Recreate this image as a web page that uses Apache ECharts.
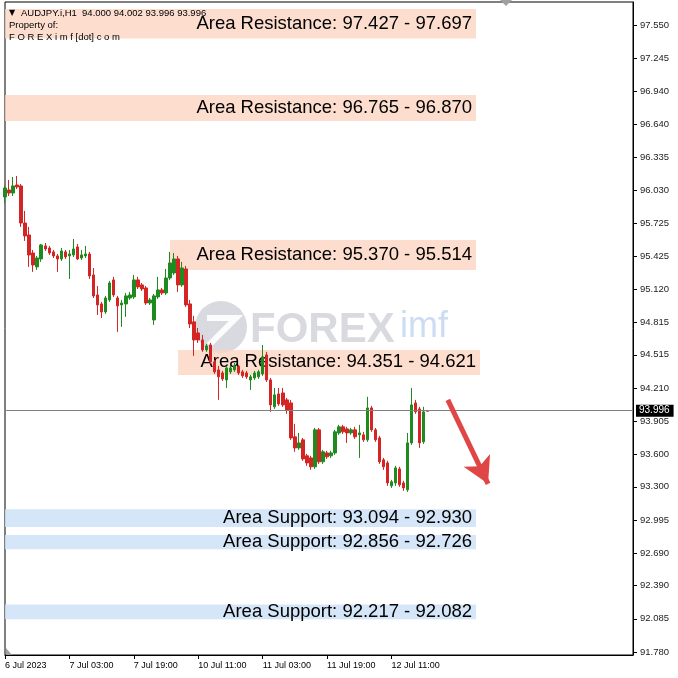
<!DOCTYPE html>
<html><head><meta charset="utf-8">
<script src="https://cdn.jsdelivr.net/npm/echarts@6/dist/echarts.min.js"></script>
<style>html,body{margin:0;padding:0;background:#fff;}#c{width:678px;height:678px;}</style>
</head><body><div id="c"></div>
<script>
// ---- data ----
const days = ['6 Jul', '7 Jul', '10 Jul', '11 Jul', '12 Jul', '13 Jul', '14 Jul'];
const firstHour = 11;
const slotCount = 158;
const tickIdx = [0, 16, 32, 48, 64, 80, 96];
const tickLabels = ['6 Jul 2023', '7 Jul 03:00', '7 Jul 19:00', '10 Jul 11:00', '11 Jul 03:00', '11 Jul 19:00', '12 Jul 11:00'];
const yTicks = [97.550, 97.245, 96.940, 96.640, 96.335, 96.030, 95.725, 95.425, 95.120, 94.815, 94.515, 94.210, 93.905, 93.600, 93.300, 92.995, 92.690, 92.390, 92.085, 91.780];
const yMin = 91.752, yMax = 97.762;
// [open, close, low, high]
const ohlc = [
[95.968,96.050,95.912,96.069],[96.032,96.004,95.977,96.124],[96.004,96.069,95.977,96.152],[96.078,96.060,96.041,96.161],
[96.069,95.728,95.692,96.087],[95.728,95.609,95.563,95.839],[95.618,95.434,95.324,95.692],[95.452,95.342,95.278,95.480],
[95.324,95.406,95.296,95.425],[95.397,95.526,95.370,95.535],[95.517,95.489,95.471,95.544],[95.498,95.452,95.434,95.517],
[95.462,95.425,95.406,95.480],[95.425,95.397,95.278,95.443],[95.397,95.471,95.379,95.498],[95.462,95.416,95.397,95.480],
[95.425,95.443,95.213,95.480],[95.434,95.489,95.416,95.581],[95.508,95.397,95.388,95.535],[95.406,95.434,95.388,95.480],
[95.425,95.443,95.406,95.517],[95.443,95.241,95.213,95.462],[95.250,95.057,95.038,95.314],[95.066,94.974,94.882,95.149],
[94.983,94.910,94.854,95.002],[94.910,95.038,94.891,95.057],[95.020,95.176,95.002,95.195],[95.204,95.066,95.048,95.232],
[95.038,94.965,94.726,95.057],[94.974,94.992,94.772,95.020],[94.983,95.057,94.864,95.084],[95.038,95.066,95.020,95.094],
[95.048,95.204,95.029,95.250],[95.204,95.140,95.121,95.232],[95.158,95.121,95.103,95.176],[95.130,94.992,94.974,95.149],
[94.992,95.020,94.974,95.038],[94.836,95.057,94.790,95.075],[95.048,95.112,95.029,95.232],[95.112,95.084,95.066,95.130],
[95.084,95.222,95.066,95.305],[95.222,95.360,95.204,95.462],[95.268,95.397,95.250,95.452],[95.397,95.158,95.094,95.425],
[95.158,95.314,95.140,95.370],[95.305,94.974,94.956,95.333],[94.983,94.799,94.762,95.020],[94.818,94.652,94.505,94.873],
[94.716,94.652,94.624,94.762],[94.652,94.560,94.542,94.698],[94.560,94.597,94.542,94.615],[94.606,94.450,94.431,94.624],
[94.450,94.358,94.339,94.468],[94.376,94.312,94.100,94.413],[94.348,94.293,94.275,94.367],[94.284,94.394,94.210,94.413],
[94.358,94.394,94.339,94.413],[94.376,94.413,94.358,94.440],[94.404,94.348,94.330,94.422],[94.358,94.321,94.302,94.376],
[94.348,94.312,94.293,94.367],[94.284,94.312,94.192,94.330],[94.302,94.348,94.284,94.367],[94.312,94.358,94.293,94.376],
[94.339,94.496,94.321,94.606],[94.514,94.284,94.266,94.542],[94.284,94.054,93.990,94.302],[94.036,94.146,94.017,94.210],
[94.155,94.063,94.045,94.210],[94.164,94.054,94.036,94.210],[94.100,94.008,93.972,94.118],[94.072,93.750,93.732,94.100],
[93.760,93.658,93.622,93.879],[93.658,93.704,93.640,93.796],[93.732,93.557,93.539,93.750],[93.585,93.520,93.493,93.603],
[93.566,93.484,93.456,93.585],[93.484,93.824,93.465,93.842],[93.824,93.530,93.511,93.842],[93.530,93.622,93.511,93.640],
[93.612,93.576,93.557,93.631],[93.585,93.612,93.566,93.631],[93.612,93.806,93.594,93.824],[93.796,93.852,93.778,93.870],
[93.852,93.806,93.787,93.870],[93.833,93.796,93.704,93.852],[93.796,93.824,93.778,93.842],[93.824,93.760,93.741,93.852],
[93.778,93.796,93.566,93.870],[93.778,93.732,93.714,93.806],[93.732,94.026,93.714,94.128],[94.026,93.824,93.806,94.045],
[93.824,93.732,93.714,93.842],[93.750,93.530,93.511,93.769],[93.548,93.484,93.456,93.566],[93.520,93.336,93.309,93.539],
[93.309,93.346,93.290,93.364],[93.336,93.474,93.309,93.493],[93.465,93.318,93.300,93.484],[93.336,93.290,93.263,93.355],
[93.272,93.704,93.254,93.796],[93.704,94.054,93.686,94.210],[94.072,93.990,93.972,94.100],[94.017,93.704,93.658,94.036],
[93.714,93.990,93.695,94.036],[94.000,93.996,93.996,94.002]
];
const lastPrice = 93.996;
const zoneText = ['Area Resistance: 97.427 - 97.697', 'Area Resistance: 96.765 - 96.870', 'Area Resistance: 95.370 - 95.514', 'Area Resistance: 94.351 - 94.621', 'Area Support: 93.094 - 92.930', 'Area Support: 92.856 - 92.726', 'Area Support: 92.217 - 92.082'];
const zoneKind = ['r', 'r', 'r', 'r', 's', 's', 's'];
const zoneLow = [97.427, 96.667, 95.296, 94.330, 92.930, 92.726, 92.082];
const zoneHigh = [97.697, 96.906, 95.572, 94.560, 93.094, 92.856, 92.217];
const zoneStart = [0, 0, 41, 43, 0, 0, 0];
const zoneEnd = [117, 117, 117, 118, 117, 117, 117];
const arrowFrom = [110, 94.100];
const arrowTo = [120, 93.327];

// ---- build ----
const cats = [];
for (let d = 0; d < days.length && cats.length < slotCount; d++) {
  for (let h = (d === 0 ? firstHour : 0); h < 24 && cats.length < slotCount; h++) {
    cats.push(days[d] + ' ' + String(h).padStart(2, '0') + ':00');
  }
}
const zoneColor = { r: 'rgba(251,212,192,0.78)', s: 'rgba(206,226,247,0.85)' };
const areaData = zoneText.map((t, i) => [
  { name: t, coord: [zoneStart[i], zoneLow[i]], itemStyle: { color: zoneColor[zoneKind[i]] } },
  { coord: [zoneEnd[i], zoneHigh[i]] }
]);
const showTick = (i) => tickIdx.indexOf(i) >= 0;

const chart = echarts.init(document.getElementById('c'), null, { renderer: 'canvas' });
chart.setOption({
  animation: false,
  backgroundColor: '#fff',
  grid: { left: 5, right: 45, top: 2, bottom: 23, show: true, borderColor: '#000', borderWidth: 1, outerBoundsMode: 'none', containLabel: false },
  xAxis: {
    type: 'category', data: cats, boundaryGap: false,
    axisLine: { lineStyle: { color: '#000', width: 1 } },
    axisTick: { interval: showTick, length: 4, lineStyle: { color: '#000' } },
    axisLabel: { interval: showTick, formatter: (v, i) => tickLabels[tickIdx.indexOf(i)], align: 'left', color: '#000', fontSize: 9, fontFamily: 'Liberation Sans', margin: 6 },
    splitLine: { show: false }
  },
  yAxis: {
    type: 'value', position: 'right', min: yMin, max: yMax,
    axisLine: { show: true, lineStyle: { color: '#000' } },
    axisTick: { show: true, customValues: yTicks, length: 4, lineStyle: { color: '#000' } },
    axisLabel: { customValues: yTicks, formatter: (v) => v.toFixed(3), color: '#222', fontSize: 9.5, fontFamily: 'Liberation Sans', margin: 7 },
    splitLine: { show: false }
  },
  graphic: [
    { type: 'text', left: 9, top: 9, z: 10, style: { text: '\u25BC', font: '8px "DejaVu Sans"', fill: '#000' } },
    { type: 'text', left: 21, top: 8, z: 10, style: { text: 'AUDJPY.i,H1  94.000 94.002 93.996 93.996', font: '9.5px "Liberation Sans"', fill: '#000' } },
    { type: 'text', left: 9, top: 20, z: 10, style: { text: 'Property of:', font: '9.5px "Liberation Sans"', fill: '#000' } },
    { type: 'text', left: 9, top: 32, z: 10, style: { text: 'F O R E X i m f [dot] c o m', font: '9.5px "Liberation Sans"', fill: '#000' } },
    { type: 'polygon', z: 10, shape: { points: [[500, 0], [512, 0], [506, 6]] }, style: { fill: '#a0a0a0' } },
    { type: 'polygon', z: 10, shape: { points: [[6, 648], [6, 655], [12, 655]] }, style: { fill: '#a0a0a0' } },
    { type: 'circle', z: 1, shape: { cx: 221, cy: 327, r: 26 }, style: { fill: 'rgba(120,120,145,0.28)' } },
    { type: 'polyline', z: 1, shape: { points: [[207, 318], [236, 318], [209, 345]] }, style: { stroke: 'rgba(255,255,255,0.9)', lineWidth: 6, fill: null } },
    { type: 'text', z: 1, left: 250, top: 309, style: { text: 'FOREX', font: 'bold 42px "Liberation Sans"', fill: 'rgba(120,120,145,0.28)' } },
    { type: 'text', z: 1, left: 400, top: 309, style: { text: 'imf', font: '36px "Liberation Sans"', fill: 'rgba(110,155,220,0.35)' } }
  ],
  series: [{
    type: 'candlestick',
    data: ohlc,
    barWidth: 3,
    itemStyle: { color: '#1f8a1f', color0: '#d42424', borderColor: '#1f8a1f', borderColor0: '#d42424', borderWidth: 1 },
    markArea: {
      silent: true,
      label: { show: true, position: 'insideRight', distance: 4, color: '#000', fontSize: 18.5, fontFamily: 'Liberation Sans' },
      data: areaData
    },
    markLine: {
      silent: true, animation: false,
      symbol: ['none', 'none'],
      data: [
        { yAxis: lastPrice, lineStyle: { color: '#808080', width: 1, type: 'solid' },
          label: { show: true, position: 'end', distance: 3, formatter: lastPrice.toFixed(3), backgroundColor: '#000', color: '#fff', padding: [1, 4, 1, 3], fontSize: 10, fontFamily: 'Liberation Sans' } },
        [
          { coord: arrowFrom, symbol: 'none' },
          { coord: arrowTo, symbol: 'arrow', symbolSize: [22, 26], lineStyle: { color: '#e04646', width: 5, type: 'solid' }, label: { show: false } }
        ]
      ]
    }
  }]
});
</script></body></html>
